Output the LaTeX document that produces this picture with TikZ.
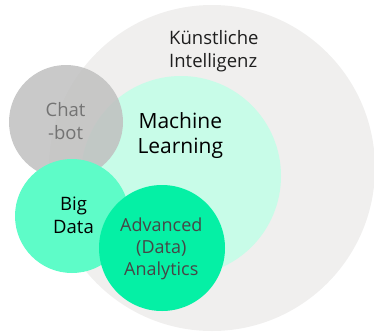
\documentclass[tikz,border=0pt]{standalone}
\usepackage{fontspec}
\setmainfont{Open Sans}
\begin{document}
\begin{tikzpicture}[x=1pt,y=-1pt,
  circ/.style={circle,draw=none,inner sep=0pt},
  lbl/.style={align=center,inner sep=0pt}]
\useasboundingbox (0,0) rectangle (374,332);
\fill[fill={rgb,255:red,240;green,239;blue,238}] (212,168) circle (163);
\fill[fill={rgb,255:red,200;green,252;blue,232}] (181,176) circle (100);
\fill[fill={rgb,255:red,192;green,192;blue,192},fill opacity=0.85] (66,122) circle (57);
\fill[fill={rgb,255:red,94;green,252;blue,200}] (72,216) circle (57);
\fill[fill={rgb,255:red,5;green,240;blue,165}] (162,248) circle (63);
\node[circ,minimum size=326pt] (ki) at (212,168) {};
\node[circ,minimum size=200pt] (ml) at (181,176) {};
\node[circ,minimum size=114pt] (cb) at (66,122) {};
\node[circ,minimum size=114pt] (bd) at (72,216) {};
\node[circ,minimum size=126pt] (aa) at (162,248) {};
\node[lbl,align=left,anchor=north west,font=\fontsize{18.5}{23}\selectfont,text={rgb,255:red,30;green,30;blue,30}] (kit) at (169,30.3) {Künstliche\\Intelligenz};
\node[lbl,font=\fontsize{21}{25}\selectfont,text=black] (mlt) at (180.3,135.3) {Machine\\Learning};
\node[lbl,font=\fontsize{18.5}{23}\selectfont,text={rgb,255:red,115;green,115;blue,115}] (cbt) at (65.6,121.3) {Chat\\-bot};
\node[lbl,font=\fontsize{18.5}{22.7}\selectfont,text=black] (bdt) at (73.5,215) {Big\\Data};
\node[lbl,font=\fontsize{18}{22.3}\selectfont,text={rgb,255:red,70;green,70;blue,70}] (aat) at (161.3,248.7) {Advanced\\(Data)\\Analytics};
\end{tikzpicture}
\end{document}
